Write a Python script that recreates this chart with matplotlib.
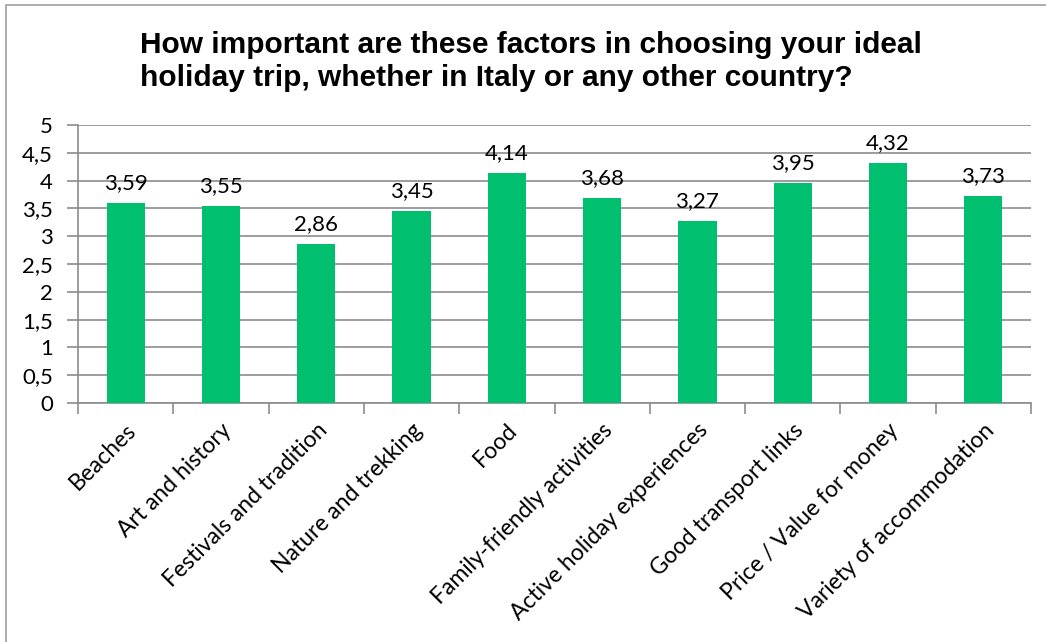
import matplotlib.pyplot as plt
from matplotlib.patches import Rectangle
import numpy as np

categories = ['Beaches', 'Art and history', 'Festivals and tradition', 'Nature and trekking',
              'Food', 'Family-friendly activities', 'Active holiday experiences',
              'Good transport links', 'Price / Value for money', 'Variety of accommodation']
values = [3.59, 3.55, 2.86, 3.45, 4.14, 3.68, 3.27, 3.95, 4.32, 3.73]
yticks = [0, 0.5, 1, 1.5, 2, 2.5, 3, 3.5, 4, 4.5, 5]
title = 'How important are these factors in choosing your ideal\nholiday trip, whether in Italy or any other country?'

body_font = 'Lato'
green = '#00BF6F'
grey = '#8C8C8C'

fig = plt.figure(figsize=(10.46, 6.42), dpi=100)
ax = fig.add_axes([78 / 1046, 1 - 403 / 642, (1031 - 78) / 1046, (403 - 125) / 642])

# outer frame (only left/top edges visible in reference)
fig.patches.append(Rectangle((6 / 1046, -0.1), 2, 1 - 5 / 642 + 0.1, transform=fig.transFigure,
                             fill=False, edgecolor='#A0A0A0', linewidth=1.2))

x = np.arange(len(categories))
ax.bar(x, values, width=0.4, color=green, zorder=3)
for xi, v in zip(x, values):
    ax.text(xi, v + 0.18, f'{v:.2f}'.replace('.', ','), ha='center', va='bottom',
            fontsize=16, family=body_font)

ax.set_xlim(-0.5, len(categories) - 0.5)
ax.set_ylim(0, 5)
ax.set_yticks(yticks)
ax.set_yticklabels([f'{t:g}'.replace('.', ',') for t in yticks], fontsize=16, family=body_font)
ax.yaxis.grid(True, color=grey, linewidth=1.2, zorder=0)

# category ticks at boundaries, labels at centres
ax.set_xticks(np.arange(len(categories) + 1) - 0.5)
ax.set_xticklabels([])
ax.set_xticks(x, minor=True)
ax.set_xticklabels(categories, minor=True, rotation=45, ha='right', va='top',
                   rotation_mode='anchor', fontsize=16.5, family=body_font)
ax.tick_params(axis='x', which='minor', length=0, pad=12)
ax.tick_params(axis='x', which='major', length=8, color=grey, width=1.2)
ax.tick_params(axis='y', length=8, color=grey, width=1.2, pad=10)

for s in ['top', 'right']:
    ax.spines[s].set_visible(False)
for s in ['left', 'bottom']:
    ax.spines[s].set_color(grey)
    ax.spines[s].set_linewidth(1.2)

fig.text(140 / 1046, 1 - 31 / 642, title, ha='left', va='top', fontsize=21.5,
         fontweight='bold', family='Liberation Sans', linespacing=1.22)

fig.savefig('out.png', dpi=100)
